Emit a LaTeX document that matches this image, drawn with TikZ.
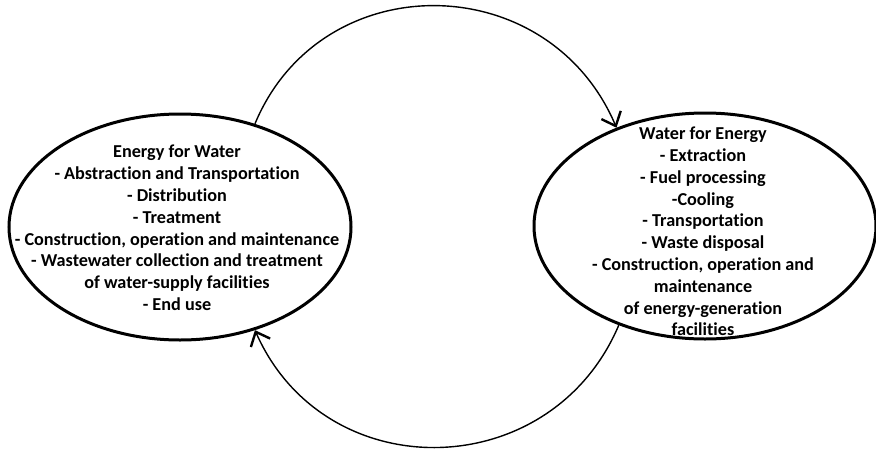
\documentclass[tikz,border=0pt]{standalone}
\usepackage{fontspec}
\setmainfont{Carlito}[Ligatures=NoCommon]
\usetikzlibrary{arrows.meta,shapes.geometric}
\begin{document}
\begin{tikzpicture}[x=1pt,y=-1pt,
  cycle/.style={ellipse,draw,line width=3pt,minimum width=342pt,minimum height=226pt,inner sep=0pt},
  itemlist/.style={align=center,font=\fontsize{18.2}{21.8}\selectfont\bfseries,inner sep=0pt},
  flow/.style={line width=1.4pt,-{Straight Barb[length=12pt,width=21pt,line width=2.4pt]}}]
  \useasboundingbox (0,0) rectangle (876,450);
  % the two sectors
  \node[cycle] (EW) at (180,227) {};
  \node[cycle] (WE) at (705,226) {};
  \node[itemlist] (EWtext) at (177,228) {Energy for Water\\
    - Abstraction and Transportation\\
    - Distribution\\
    - Treatment\\
    - Construction, operation and maintenance\\
    - Wastewater collection and treatment\\
    of water-supply facilities\\
    - End use};
  \node[itemlist] (WEtext) at (703,231.5) {Water for Energy\\
    - Extraction\\
    - Fuel processing\\
    -Cooling\\
    - Transportation\\
    - Waste disposal\\
    - Construction, operation and\\
    maintenance\\
    of energy-generation\\
    facilities};
  % the two arcs closing the loop
  \draw[flow] (EW.54.8) .. controls (321,-35) and (548,-33) .. (WE.132.6);
  \draw[flow] (WE.229.9) .. controls (551,485) and (325,489) .. (EW.306.2);
\end{tikzpicture}
\end{document}
